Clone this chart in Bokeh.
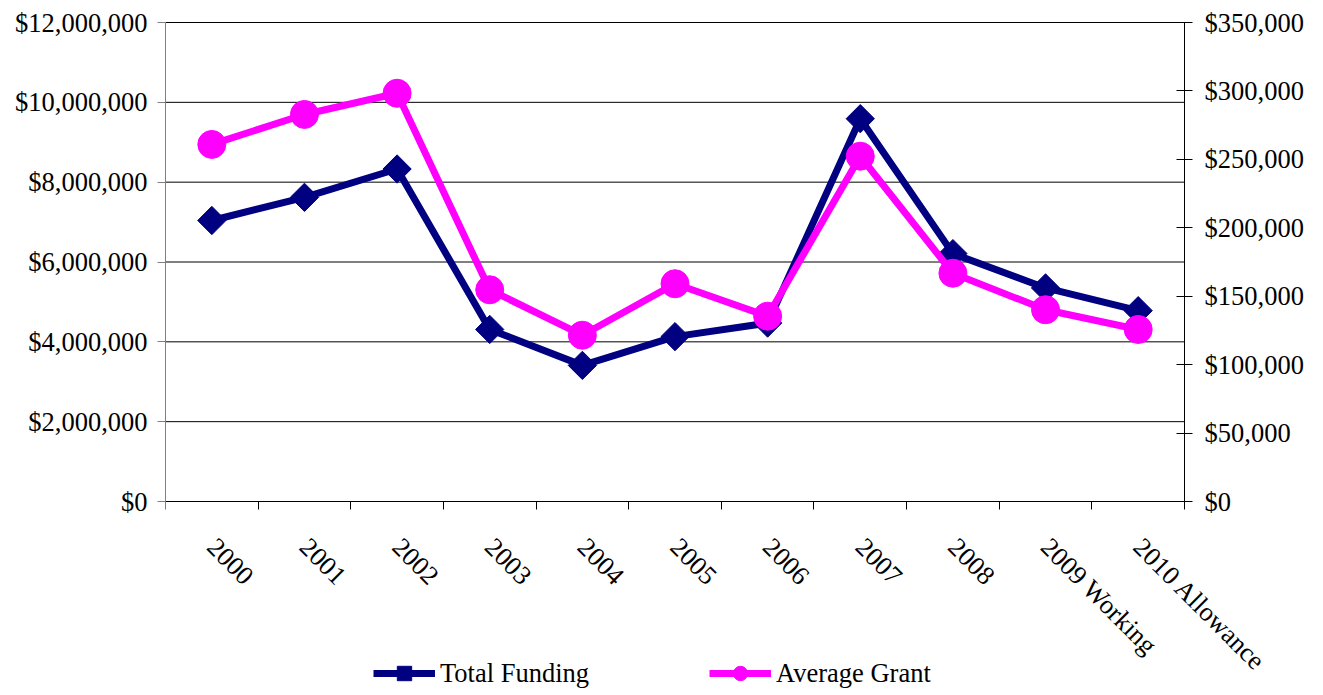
import math
from bokeh.plotting import figure
from bokeh.models import (Range1d, LinearAxis, FixedTicker, NumeralTickFormatter,
                          Legend, LegendItem)
from bokeh.embed import file_html
from bokeh.resources import INLINE

categories = ["2000", "2001", "2002", "2003", "2004", "2005", "2006", "2007",
              "2008", "2009 Working", "2010 Allowance"]
total_funding = [7040000, 7620000, 8330000, 4310000, 3410000, 4130000, 4470000,
                 9590000, 6210000, 5350000, 4780000]
average_grant = [260900, 282800, 298300, 154700, 121500, 159100, 135400,
                 252300, 166800, 140100, 125700]
left_ticks = [0, 2000000, 4000000, 6000000, 8000000, 10000000, 12000000]
right_ticks = [0, 50000, 100000, 150000, 200000, 250000, 300000, 350000]

FONT = "Liberation Serif"
FS = "26.5px"
NAVY = "#000080"
MAGENTA = "#FF00FF"

# layout (pixels): the plotting area is 1019 x 479 px; the frame is kept
# larger (22 px above, 193 px below, 131 px right) so that the category
# labels, the right axis and the legend are drawn inside it
W, H = 1315, 694
LEFT, TOP = 165, 22
AREA_W, AREA_H = 1019, 479
BELOW = H - TOP - AREA_H
RIGHT = W - LEFT - AREA_W

n = len(categories)
xs = list(range(n))
x_lo, x_hi = -0.5, n - 0.5
x_end = x_hi + (x_hi - x_lo) * RIGHT / AREA_W


def padded(top_value):
    return (-top_value * BELOW / AREA_H, top_value + top_value * TOP / AREA_H)


p = figure(width=W, height=H, output_backend="svg", toolbar_location=None,
           x_range=Range1d(x_lo, x_end),
           y_range=Range1d(*padded(left_ticks[-1])),
           min_border_left=LEFT, min_border_right=0, min_border_top=0,
           min_border_bottom=0)
p.outline_line_color = None
p.background_fill_color = "white"
p.border_fill_color = "white"
p.xgrid.grid_line_color = None
p.ygrid.grid_line_color = None

# horizontal gridlines at the left-axis ticks, across the plotting area
p.segment(x0=[x_lo] * len(left_ticks), x1=[x_hi] * len(left_ticks),
          y0=left_ticks, y1=left_ticks, line_color="#000000", line_width=1)

# x axis, pinned to zero
xa = p.xaxis[0]
xa.fixed_location = 0
xa.bounds = (x_lo, x_hi)
xa.ticker = FixedTicker(ticks=xs, minor_ticks=[i - 0.5 for i in range(n + 1)])
xa.major_label_overrides = {i: c for i, c in enumerate(categories)}
xa.major_label_orientation = -math.pi / 4
xa.major_label_text_font = FONT
xa.major_label_text_font_size = FS
xa.major_label_text_color = "black"
xa.major_label_standoff = 33
xa.major_tick_line_color = None
xa.minor_tick_line_color = "black"
xa.minor_tick_out = 8
xa.minor_tick_in = 0
xa.axis_line_color = "black"

# left axis
ya = p.yaxis[0]
ya.bounds = (left_ticks[0], left_ticks[-1])
ya.ticker = FixedTicker(ticks=left_ticks, minor_ticks=[])
ya.formatter = NumeralTickFormatter(format="$0,0")
ya.major_label_text_font = FONT
ya.major_label_text_font_size = FS
ya.major_label_text_color = "black"
ya.major_label_standoff = 10
ya.major_tick_out = 8
ya.major_tick_in = 0
ya.major_tick_line_color = "#808080"
ya.axis_line_color = "#808080"
ya.minor_tick_line_color = None

# right axis, pinned to the right edge of the plotting area
p.extra_y_ranges = {"grant": Range1d(*padded(right_ticks[-1]))}
ra = LinearAxis(y_range_name="grant", fixed_location=x_hi,
                bounds=(right_ticks[0], right_ticks[-1]),
                ticker=FixedTicker(ticks=right_ticks, minor_ticks=[]),
                formatter=NumeralTickFormatter(format="$0,0"))
ra.major_label_text_font = FONT
ra.major_label_text_font_size = FS
ra.major_label_text_color = "black"
ra.major_label_standoff = 12
ra.major_tick_out = 8
ra.major_tick_in = 8
ra.major_tick_line_color = "black"
ra.axis_line_color = "black"
ra.minor_tick_line_color = None
p.add_layout(ra, "right")

# series
l1 = p.line(xs, total_funding, line_color=NAVY, line_width=7, line_join="round")
s1 = p.scatter(xs, total_funding, marker="square", angle=math.pi / 4, size=20,
               fill_color=NAVY, line_color=NAVY)
l2 = p.line(xs, average_grant, y_range_name="grant", line_color=MAGENTA,
            line_width=7, line_join="round")
s2 = p.scatter(xs, average_grant, y_range_name="grant", marker="circle", size=28,
               fill_color=MAGENTA, line_color=MAGENTA)

legend = Legend(items=[LegendItem(label="Total Funding", renderers=[l1, s1]),
                       LegendItem(label="Average Grant", renderers=[l2, s2])],
                orientation="horizontal", location=(208, 3),
                padding=0, margin=0, spacing=120,
                glyph_width=62, glyph_height=36, label_standoff=5,
                label_text_font=FONT, label_text_font_size=FS,
                label_text_color="black", label_height=36,
                border_line_color=None, background_fill_alpha=0)
p.add_layout(legend, "center")

open("out.html", "w").write(file_html(p, INLINE))
